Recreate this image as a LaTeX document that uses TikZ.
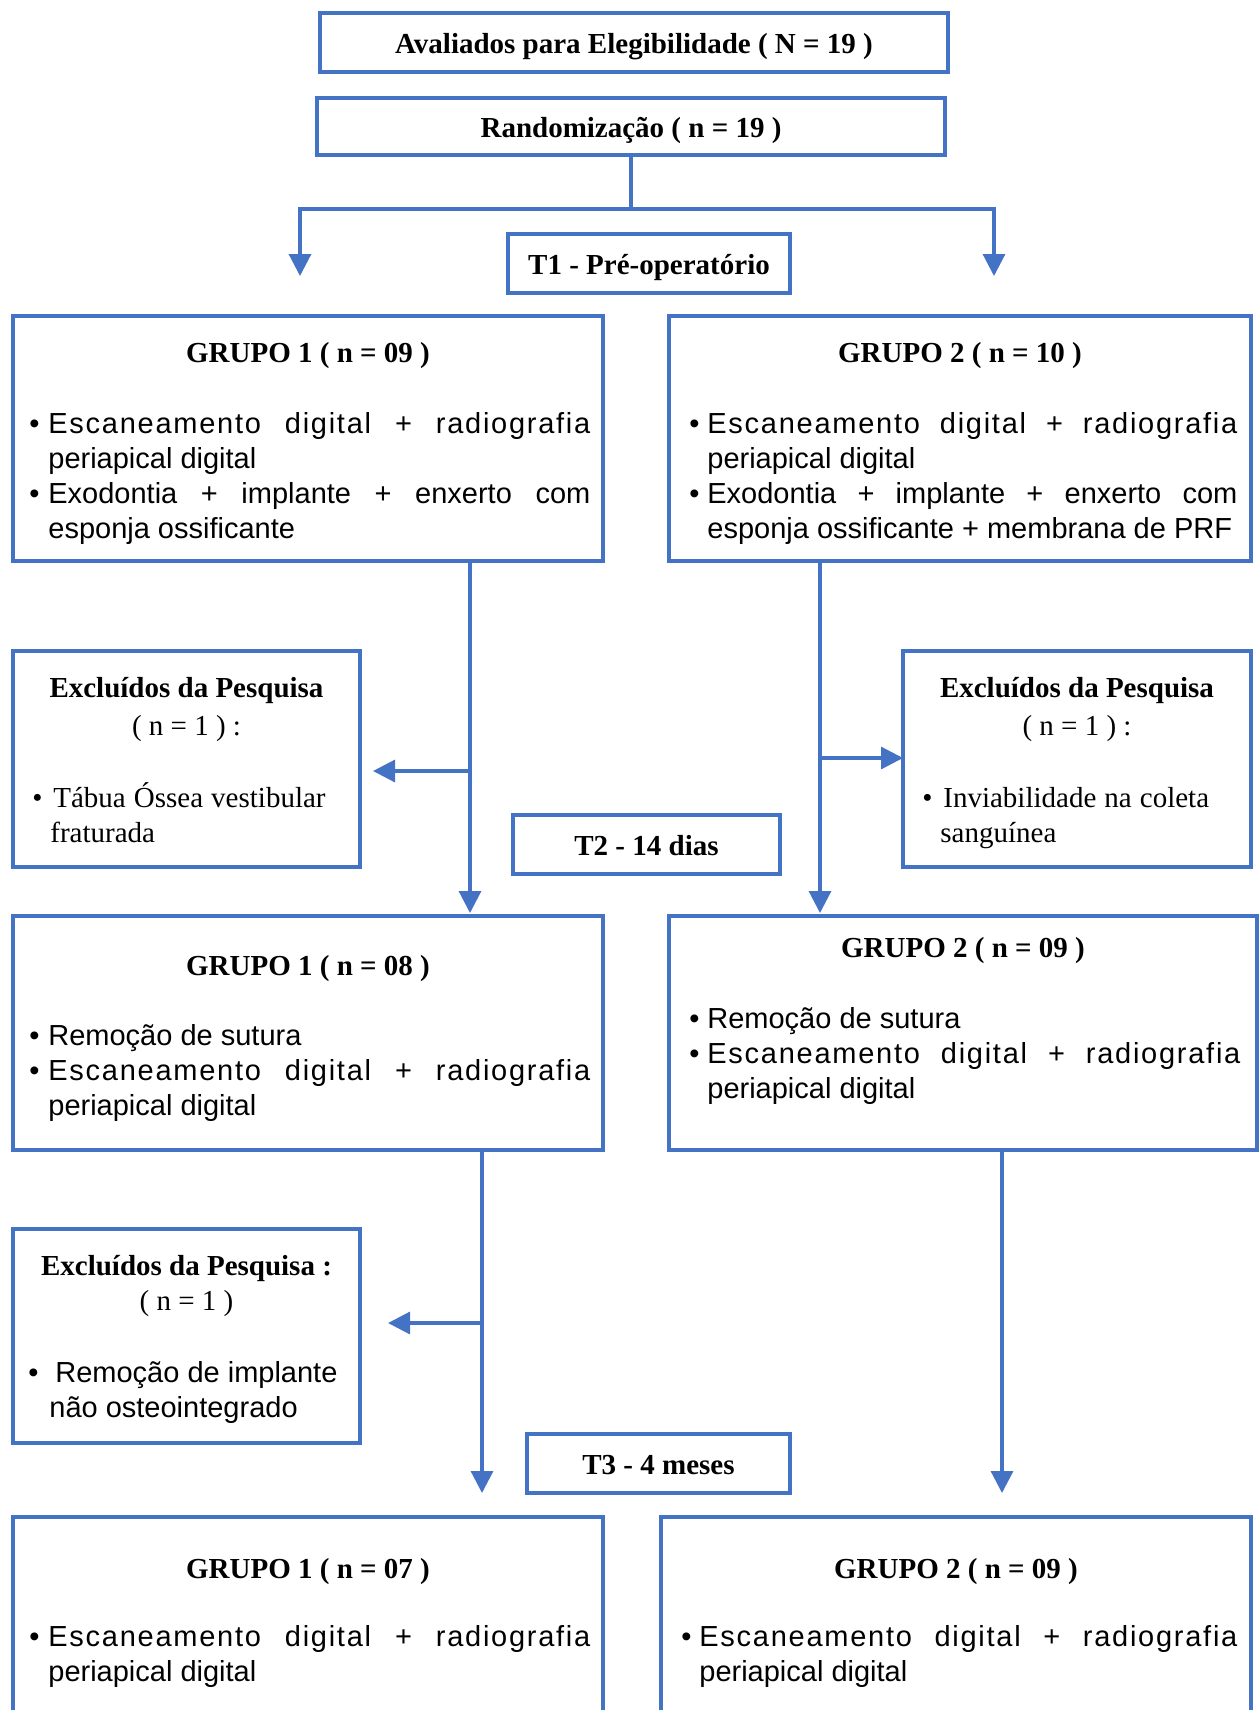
\documentclass[tikz,border=0pt]{standalone}
\usepackage{fontspec}
\setmainfont{Liberation Serif}
\setsansfont{Liberation Sans}
\usetikzlibrary{arrows.meta}
\definecolor{flowblue}{RGB}{68,114,196}
\newlength{\bhang}
\newcommand{\hdfont}{\fontsize{14.5}{17.5}\selectfont}
\newcommand{\bitem}[2][0pt]{\par\noindent\strut\hangindent=\bhang\hangafter=1\spaceskip=0.278em plus 2em minus 0.05em\relax\makebox[\bhang][l]{\textbullet}\hspace{#1}#2}
\newcommand{\lsp}[1]{{\addfontfeature{LetterSpace=6}#1}}
\tikzset{
  box/.style={draw=flowblue, line width=1.6pt, inner sep=0pt, outer sep=0pt, text height=12pt, text depth=1.5pt, font=\bfseries\hdfont},
  conn/.style={draw=flowblue, line width=1.6pt},
  arrow/.style={conn, -{Triangle[length=11pt,width=11pt]}},
  title/.style={anchor=base, inner sep=0pt, font=\bfseries\hdfont},
  note/.style={anchor=base, inner sep=0pt, font=\hdfont},
  body/.style={anchor=north west, inner sep=0pt, text width=#1, align=justify, font=\sffamily\hdfont},
  exbody/.style={anchor=north west, inner sep=0pt, text width=#1, align=left, font=\hdfont}
}
\begin{document}
\begin{tikzpicture}[x=0.5pt,y=-0.5pt]
        \clip (0,0) rectangle (1259,1710);
        %Shape: Rectangle
        \node[box, minimum width=314pt, minimum height=29.5pt] (aval) at (634,42.5) {Avaliados para Elegibilidade ( N = 19 )};
        %Shape: Rectangle
        \node[box, minimum width=314pt, minimum height=28.5pt] (rand) at (631,126.5) {Randomização ( n = 19 )};
        %Shape: Rectangle
        \node[box, minimum width=141pt, minimum height=29.5pt] (t1) at (649,263.5) {T1 - Pré-operatório};
        %Shape: Rectangle
        \node[box, minimum width=295pt, minimum height=122.5pt] (g1a) at (308,438.5) {};
        %Shape: Rectangle
        \node[box, minimum width=291pt, minimum height=122.5pt] (g2a) at (960,438.5) {};
        %Shape: Rectangle
        \node[box, minimum width=173.5pt, minimum height=108pt] (exa) at (186.5,759) {};
        %Shape: Rectangle
        \node[box, minimum width=174pt, minimum height=108pt] (exb) at (1077,759) {};
        %Shape: Rectangle
        \node[box, minimum width=133.5pt, minimum height=29.5pt] (t2) at (646.5,844.5) {T2 - 14 dias};
        %Shape: Rectangle
        \node[box, minimum width=295pt, minimum height=117pt] (g1b) at (308,1033) {};
        %Shape: Rectangle
        \node[box, minimum width=294pt, minimum height=117pt] (g2b) at (963,1033) {};
        %Shape: Rectangle
        \node[box, minimum width=173.5pt, minimum height=107pt] (exc) at (186.5,1336) {};
        %Shape: Rectangle
        \node[box, minimum width=131.5pt, minimum height=29.5pt] (t3) at (658.5,1463.5) {T3 - 4 meses};
        %Shape: Rectangle
        \node[box, minimum width=295pt, minimum height=121.5pt] (g1c) at (308,1638.5) {};
        %Shape: Rectangle
        \node[box, minimum width=295pt, minimum height=121.5pt] (g2c) at (956,1638.5) {};

        %Straight Lines
        \coordinate (split) at (631,209);
        \coordinate (to1) at (300,276);
        \coordinate (to2) at (994,276);
        \draw[conn] (rand.south) -- (split);
        \draw[arrow] (split) -| (to1);
        \draw[arrow] (split) -| (to2);
        %Straight Lines
        \coordinate (b1) at (470,771);
        \draw[arrow, shorten >=1.5pt] (g1a.south -| b1) -- (g1b.north -| b1);
        \draw[arrow, shorten >=6.5pt] (b1) -- (exa.east |- b1);
        %Straight Lines
        \coordinate (b2) at (820,758);
        \draw[arrow, shorten >=1.5pt] (g2a.south -| b2) -- (g2b.north -| b2);
        \draw[arrow] (b2) -- (exb.west |- b2);
        %Straight Lines
        \coordinate (b3) at (482,1323);
        \coordinate (to3) at (482,1493);
        \draw[arrow] (g1b.south -| b3) -- (to3);
        \draw[arrow, shorten >=14pt] (b3) -- (exc.east |- b3);
        %Straight Lines
        \coordinate (to4) at (1002,1493);
        \draw[arrow] (g2b.south -| to4) -- (to4);

        % Text Node
        \node[title] (g1a-tit) at (308,362) {GRUPO 1 ( n = 09 )};
        % Text Node
        \node[body=280.5pt] (g1a-txt) at (29,398.5) {\bhang=9.5pt
          \bitem{\lsp{Escaneamento digital + radiografia}\linebreak periapical digital}
          \bitem{Exodontia + implante + enxerto com\linebreak esponja ossificante}\par};
        % Text Node
        \node[title] (g2a-tit) at (960,362) {GRUPO 2 ( n = 10 )};
        % Text Node
        \node[body=274pt] (g2a-txt) at (689,398.5) {\bhang=9pt
          \bitem{\lsp{Escaneamento digital + radiografia}\linebreak periapical digital}
          \bitem{Exodontia + implante + enxerto com\linebreak esponja ossificante + membrana de PRF}\par};
        % Text Node
        \node[title] (exa-tit) at (186.5,697) {Excluídos da Pesquisa};
        \node[note] (exa-n) at (186.5,735) {( n = 1 ) :};
        \node[exbody=162pt] (exa-txt) at (32,772.5) {\bhang=9pt
          \bitem[1.5pt]{Tábua Óssea vestibular\newline fraturada}\par};
        % Text Node
        \node[title] (exb-tit) at (1077,697) {Excluídos da Pesquisa};
        \node[note] (exb-n) at (1077,735) {( n = 1 ) :};
        \node[exbody=163pt] (exb-txt) at (922,772.5) {\bhang=9pt
          \bitem[1.5pt]{Inviabilidade na coleta\newline sanguínea}\par};
        % Text Node
        \node[title] (g1b-tit) at (308,975) {GRUPO 1 ( n = 08 )};
        \node[body=280.5pt] (g1b-txt) at (29,1010.5) {\bhang=9.5pt
          \bitem{Remoção de sutura}
          \bitem{\lsp{Escaneamento digital + radiografia}\linebreak periapical digital}\par};
        % Text Node
        \node[title] (g2b-tit) at (963,957) {GRUPO 2 ( n = 09 )};
        \node[body=275.5pt] (g2b-txt) at (689,993.5) {\bhang=9pt
          \bitem{Remoção de sutura}
          \bitem{\lsp{Escaneamento digital + radiografia}\linebreak periapical digital}\par};
        % Text Node
        \node[title] (exc-tit) at (186.5,1275) {Excluídos da Pesquisa :};
        \node[note] (exc-n) at (186.5,1310) {( n = 1 )};
        \node[exbody=166pt, font=\sffamily\hdfont] (exc-txt) at (28,1347.5) {\bhang=10.5pt
          \bitem[3pt]{Remoção de implante\newline não osteointegrado}\par};
        % Text Node
        \node[title] (g1c-tit) at (308,1578) {GRUPO 1 ( n = 07 )};
        \node[body=280.5pt] (g1c-txt) at (29,1611.5) {\bhang=9.5pt
          \bitem{\lsp{Escaneamento digital + radiografia}\linebreak periapical digital}\par};
        % Text Node
        \node[title] (g2c-tit) at (956,1578) {GRUPO 2 ( n = 09 )};
        \node[body=278pt] (g2c-txt) at (681,1611.5) {\bhang=9pt
          \bitem{\lsp{Escaneamento digital + radiografia}\linebreak periapical digital}\par};
\end{tikzpicture}
\end{document}
